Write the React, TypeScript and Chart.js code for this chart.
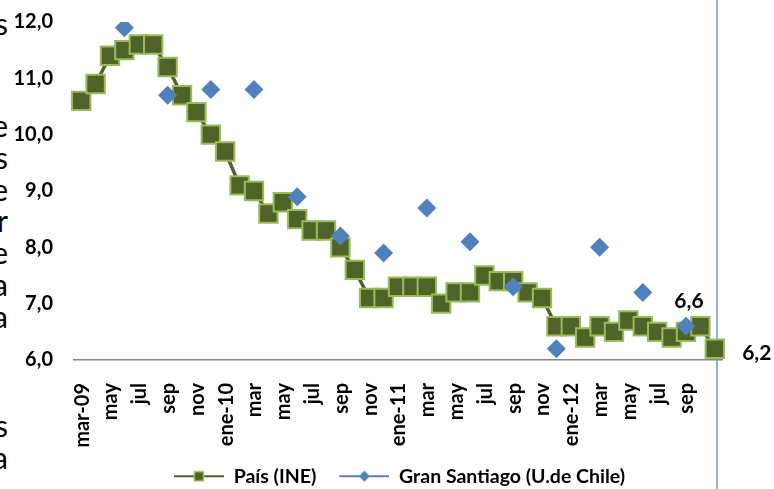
import React, { useEffect, useRef } from 'react';
import { Chart, registerables } from 'chart.js';

Chart.register(...registerables);

const categories = [
  'mar-09', 'abr', 'may', 'jun', 'jul', 'ago', 'sep', 'oct', 'nov', 'dic',
  'ene-10', 'feb', 'mar', 'abr', 'may', 'jun', 'jul', 'ago', 'sep', 'oct', 'nov', 'dic',
  'ene-11', 'feb', 'mar', 'abr', 'may', 'jun', 'jul', 'ago', 'sep', 'oct', 'nov', 'dic',
  'ene-12', 'feb', 'mar', 'abr', 'may', 'jun', 'jul', 'ago', 'sep', 'oct', 'nov',
];

const paisValues = [
  10.6, 10.9, 11.4, 11.5, 11.6, 11.6, 11.2, 10.7, 10.4, 10.0,
  9.7, 9.1, 9.0, 8.6, 8.8, 8.5, 8.3, 8.3, 8.0, 7.6, 7.1, 7.1,
  7.3, 7.3, 7.3, 7.0, 7.2, 7.2, 7.5, 7.4, 7.4, 7.2, 7.1, 6.6,
  6.6, 6.4, 6.6, 6.5, 6.7, 6.6, 6.5, 6.4, 6.5, 6.6, 6.2,
];

const santiagoValues = [
  null, null, null, 11.9, null, null, 10.7, null, null, 10.8,
  null, null, 10.8, null, null, 8.9, null, null, 8.2, null, null, 7.9,
  null, null, 8.7, null, null, 8.1, null, null, 7.3, null, null, 6.2,
  null, null, 8.0, null, null, 7.2, null, null, 6.6, null, null,
];

const seriesNames = ['País (INE)', 'Gran Santiago (U.de Chile)'];
const yTicks = { min: 6, max: 12, step: 1 };

// which points carry a value label: [datasetIndex, pointIndex, placement]
const labelledPoints = [
  [1, 42, 'above'],
  [0, 44, 'right'],
];

// clipped letters of the neighbouring text at the left edge
const edgeLetters = [
  ['s', 23], ['e', 125], ['s', 157], ['e', 189], ['r', 220],
  ['e', 252], ['a', 284], ['a', 316], ['s', 425], ['a', 457],
];

const OLIVE = '#4F6228';
const GREEN = '#9BBB59';
const BLUE = '#4F81BD';
const FONT = 'Lato, "Open Sans", sans-serif';
const LEGEND_SIZE = 19.5;
const LEGEND_PAD = 20;
const ICON_GAP = 3;
const CANVAS_H = 496;

const fmt = (v: number) => v.toFixed(1).replace('.', ',');

function makeIcon(kind: 'square' | 'diamond') {
  const c = document.createElement('canvas');
  c.width = 50 + ICON_GAP;
  c.height = 20;
  const ctx = c.getContext('2d')!;
  const x0 = ICON_GAP;
  const cx = x0 + 25;
  ctx.lineWidth = 2;
  ctx.strokeStyle = kind === 'square' ? OLIVE : BLUE;
  ctx.beginPath();
  ctx.moveTo(x0, 10);
  ctx.lineTo(x0 + 50, 10);
  ctx.stroke();
  if (kind === 'square') {
    ctx.fillStyle = OLIVE;
    ctx.fillRect(cx - 4.5, 5.5, 9, 9);
    ctx.strokeStyle = GREEN;
    ctx.lineWidth = 1.5;
    ctx.strokeRect(cx - 4.5, 5.5, 9, 9);
  } else {
    ctx.fillStyle = BLUE;
    ctx.beginPath();
    ctx.moveTo(cx, 4.5);
    ctx.lineTo(cx + 5.5, 10);
    ctx.lineTo(cx, 15.5);
    ctx.lineTo(cx - 5.5, 10);
    ctx.closePath();
    ctx.fill();
  }
  return c;
}

const valueLabels = {
  id: 'valueLabels',
  afterDatasetsDraw(chart: any) {
    const ctx = chart.ctx;
    ctx.save();
    ctx.font = `bold 21px ${FONT}`;
    ctx.fillStyle = '#000';
    ctx.textBaseline = 'middle';
    ctx.textAlign = 'center';
    for (const [ds, idx, pos] of labelledPoints as any[]) {
      const el = chart.getDatasetMeta(ds).data[idx];
      const v = chart.data.datasets[ds].data[idx];
      if (!el || v == null) continue;
      if (pos === 'above') ctx.fillText(fmt(v), el.x + 3, el.y - 25);
      else ctx.fillText(fmt(v), el.x + 42, el.y + 5);
    }
    ctx.restore();
  },
};

export default function App() {
  const ref = useRef<HTMLCanvasElement>(null);

  useEffect(() => {
    document.body.style.margin = '0';
    const icons = [makeIcon('square'), makeIcon('diamond')];
    const chart = new Chart(ref.current!, {
      type: 'line',
      data: {
        labels: categories,
        datasets: [
          {
            label: seriesNames[0],
            data: paisValues,
            borderColor: OLIVE,
            borderWidth: 3.5,
            backgroundColor: OLIVE,
            pointStyle: 'rect',
            pointRadius: 13,
            pointBorderWidth: 2,
            pointBackgroundColor: OLIVE,
            pointBorderColor: GREEN,
            tension: 0,
            order: 1,
          },
          {
            label: seriesNames[1],
            data: santiagoValues,
            showLine: false,
            borderColor: BLUE,
            backgroundColor: BLUE,
            pointStyle: 'rectRot',
            pointRadius: 9.5,
            pointBorderWidth: 0,
            pointBackgroundColor: BLUE,
            pointBorderColor: BLUE,
            order: 0,
          },
        ],
      },
      options: {
        animation: false,
        responsive: false,
        maintainAspectRatio: false,
        layout: { padding: { top: 22, left: 0, right: 52, bottom: 0 } },
        scales: {
          x: {
            type: 'category',
            offset: true,
            grid: { display: false, drawTicks: false },
            border: { display: true, color: '#878787', width: 1.5 },
            ticks: {
              autoSkip: false,
              minRotation: 90,
              maxRotation: 90,
              padding: 23,
              labelOffset: 1,
              color: '#000',
              font: { family: FONT, weight: 'bold', size: 20 },
              callback: (_v: any, i: number) =>
                i % 2 === 0 && i < categories.length - 1 ? categories[i] : '',
            },
            afterFit: (s: any) => {
              s.height = CANVAS_H - (LEGEND_SIZE + LEGEND_PAD + 10) - 360;
            },
          },
          y: {
            min: yTicks.min,
            max: yTicks.max,
            grid: { display: false, drawTicks: false },
            border: { display: false },
            ticks: {
              stepSize: yTicks.step,
              padding: 21,
              color: '#000',
              font: { family: FONT, weight: 'bold', size: 20 },
              callback: (v: any) => fmt(Number(v)),
            },
            afterFit: (s: any) => {
              s.width = 74;
              s.paddingTop = 0;
              s.paddingBottom = 0;
            },
          },
        },
        plugins: {
          tooltip: { enabled: false },
          legend: {
            position: 'bottom',
            fullSize: false,
            labels: {
              usePointStyle: true,
              pointStyleWidth: 50 + ICON_GAP,
              padding: LEGEND_PAD,
              color: '#000',
              font: { family: FONT, weight: 'bold', size: LEGEND_SIZE },
              sort: (a: any, b: any) => a.datasetIndex - b.datasetIndex,
              generateLabels: (ch: any) =>
                (Chart.defaults.plugins.legend.labels.generateLabels as any)(ch).map((it: any) => ({
                  ...it,
                  pointStyle: icons[it.datasetIndex],
                  fontColor: '#000',
                })),
            },
          },
        },
      } as any,
      plugins: [valueLabels],
    });
    return () => chart.destroy();
  }, []);

  return (
    <div style={{ position: 'relative', width: 774, height: 489, overflow: 'hidden', background: '#fff' }}>
      <div style={{ position: 'absolute', left: 716, top: 0, width: 2, height: 489, background: '#8DB3E2' }} />
      {edgeLetters.map(([ch, y], i) => (
        <span
          key={i}
          style={{
            position: 'absolute',
            right: 766,
            top: (y as number) - 17,
            fontFamily: 'Lato, sans-serif',
            fontSize: 30,
            lineHeight: '34px',
            color: '#000',
          }}
        >
          {ch}
        </span>
      ))}
      <canvas ref={ref} width={774} height={CANVAS_H} style={{ position: 'absolute', left: 0, top: 0 }} />
    </div>
  );
}
